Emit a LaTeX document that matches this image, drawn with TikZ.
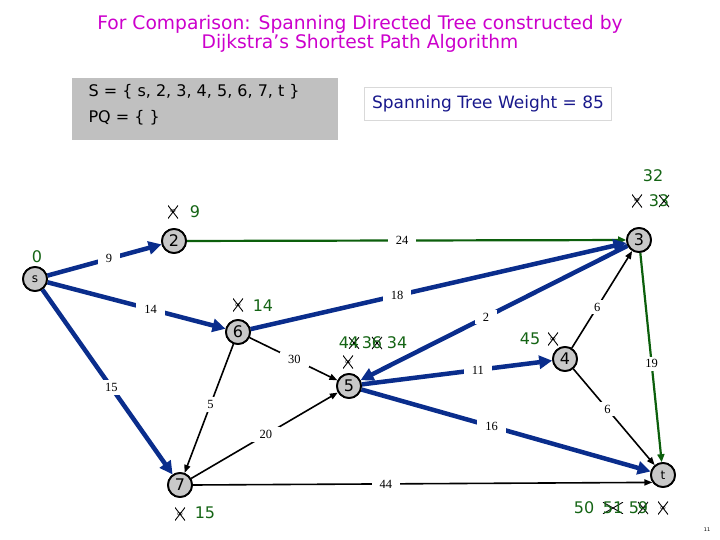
\documentclass[tikz,border=0pt]{standalone}
\usepackage{fontspec}
\setmainfont{DejaVu Sans}
\newfontfamily\lblfont{Liberation Serif}
\usetikzlibrary{arrows.meta}
\definecolor{eblue}{RGB}{10,45,140}
\definecolor{egreen}{RGB}{12,95,12}
\definecolor{tgreen}{RGB}{20,100,20}
\definecolor{mag}{RGB}{204,0,204}
\definecolor{ngray}{RGB}{200,200,200}
\definecolor{bgray}{RGB}{192,192,192}
\definecolor{navy}{RGB}{25,25,140}
\begin{document}
\begin{tikzpicture}[x=1pt,y=-1pt,
  vert/.style={circle, draw, line width=1.8pt, fill=ngray, minimum size=24pt, inner sep=0pt, font=\fontsize{16}{16}\selectfont},
  bluee/.style={draw=eblue, line width=4.5pt, -{Triangle[length=13pt,width=13pt]}},
  greene/.style={draw=egreen, line width=2.2pt, -{Triangle[length=8pt,width=7pt]}},
  blacke/.style={draw=black, line width=1.6pt, -{Triangle[length=8pt,width=6pt]}},
  elbl/.style={fill=white, inner xsep=8pt, inner ysep=3pt, font=\lblfont\fontsize{12.5}{12.5}\selectfont, text=black},
  dist/.style={text=tgreen, inner sep=0pt, font=\fontsize{16}{16}\selectfont},
  xinf/.style={minimum width=10pt, minimum height=13pt, inner sep=0pt,
    font=\fontsize{8}{8}\selectfont,
    path picture={\draw[line width=0.9pt] (path picture bounding box.south west) -- (path picture bounding box.north east)
      (path picture bounding box.north west) -- (path picture bounding box.south east);}},
  xdig/.style={dist, minimum height=11pt,
    path picture={\draw[line width=0.9pt] (path picture bounding box.south west) -- (path picture bounding box.north east)
      (path picture bounding box.north west) -- (path picture bounding box.south east);}}
]
\useasboundingbox (0,0) rectangle (720,540);

% title
\node[text=mag, font=\fontsize{18.7}{19.5}\selectfont, align=center] (title) at (360,34)
  {For Comparison: Spanning Directed Tree constructed by\\Dijkstra's Shortest Path Algorithm};

% sets box
\node[fill=bgray, minimum width=266pt, minimum height=62pt, inner sep=0pt] (box) at (205,109) {};
\node[anchor=west, font=\fontsize{16}{16}\selectfont] (sset) at (85,92) {S = \{ s, 2, 3, 4, 5, 6, 7, t \}};
\node[anchor=west, font=\fontsize{16}{16}\selectfont] (pq) at (85,118) {PQ = \{ \}};

% weight box
\node[draw=bgray!60, line width=0.6pt, fill=white, minimum width=247pt, minimum height=33pt, text=navy,
  font=\fontsize{17}{17}\selectfont] (wt) at (488,104) {Spanning Tree Weight = 85};

% vertex positions
\coordinate (cs) at (35,279);
\coordinate (c2) at (174,241);
\coordinate (c3) at (639,240);
\coordinate (c6) at (238,332);
\coordinate (c5) at (349,386);
\coordinate (c4) at (565,359);
\coordinate (c7) at (180,485);
\coordinate (ct) at (663,475);

% vertices (drawn first to fix anchors)
\node[vert] (s) at (cs) {\fontsize{12}{12}\selectfont s};
\node[vert] (n2) at (c2) {2};
\node[vert] (n3) at (c3) {3};
\node[vert] (n6) at (c6) {6};
\node[vert] (n5) at (c5) {5};
\node[vert] (n4) at (c4) {4};
\node[vert] (n7) at (c7) {7};
\node[vert] (t) at (ct) {\fontsize{12}{12}\selectfont t};

% edges
\draw[blacke] (n6) -- node[elbl, pos=0.51] {30} (n5);
\draw[blacke] (n6) -- node[elbl, pos=0.47] {5} (n7);
\draw[blacke] (n7) -- node[elbl, pos=0.51] {20} (n5);
\draw[blacke] (n7.east) -- node[elbl, pos=0.42] {44} (t.215);
\draw[blacke] (n4) -- node[elbl, pos=0.42] {6} (n3);
\draw[blacke] (n4) -- node[elbl, pos=0.42] {6} (t);
\draw[greene] (n2) -- node[elbl, pos=0.49] {24} (n3);
\draw[greene] (n3) -- node[elbl, pos=0.53] {19} (t);
\draw[bluee] (s) -- node[elbl, pos=0.54] {9} (n2);
\draw[bluee] (s) -- node[elbl, pos=0.58] {14} (n6);
\draw[bluee] (s) -- node[elbl, pos=0.53] {15} (n7);
\draw[bluee] (n6) -- node[elbl, pos=0.39] {18} (n3);
\draw[bluee] (n3) -- node[elbl, pos=0.53] {2} (n5);
\draw[bluee] (n5) -- node[elbl, pos=0.61] {11} (n4);
\draw[bluee] (n5) -- node[elbl, pos=0.45] {16} (t);

% vertices again on top of the edges
\node[vert] at (cs) {\fontsize{12}{12}\selectfont s};
\node[vert] at (c2) {2};
\node[vert] at (c3) {3};
\node[vert] at (c6) {6};
\node[vert] at (c5) {5};
\node[vert] at (c4) {4};
\node[vert] at (c7) {7};
\node[vert] at (ct) {\fontsize{12}{12}\selectfont t};

% distance labels
\node[dist] (d0) at (37,257) {0};
\node[xinf] (x2) at (173,212) {\raisebox{-4pt}{∞}};
\node[dist] (d2) at (195,212) {9};
\node[xinf] (x6) at (238,305) {\raisebox{-4pt}{∞}};
\node[dist] (d6) at (263,306) {14};
\node[dist] (d3a) at (653,176) {32};
\node[xinf] (x3) at (637,201) {\raisebox{-4pt}{∞}};
\node[dist] (d3b) at (654,201) {3};
\node[xdig] (d3c) at (664,201) {3};
\node[dist] (d5a) at (344,343) {4};
\node[xdig] (d5b) at (354,343) {4};
\node[dist] (d5c) at (367,343) {3};
\node[xdig] (d5d) at (377,343) {6};
\node[dist] (d5e) at (397,343) {34};
\node[xinf] (x5) at (348,362) {\raisebox{-4pt}{∞}};
\node[dist] (d4) at (530,339) {45};
\node[xinf] (x4) at (553,339) {\raisebox{-4pt}{∞}};
\node[xinf] (x7) at (180,514) {\raisebox{-4pt}{∞}};
\node[dist] (d7) at (205,513) {15};
\node[dist] (dta) at (584,508) {50};
\node[xdig] (dtb) at (613,508) {51};
\node[dist] (dtc) at (634,508) {5};
\node[xdig] (dtd) at (643,508) {9};
\node[xinf] (xt) at (663,508) {\raisebox{-4pt}{∞}};

\node[font=\fontsize{5}{5}\selectfont] (pg) at (707,530) {11};
\end{tikzpicture}
\end{document}
